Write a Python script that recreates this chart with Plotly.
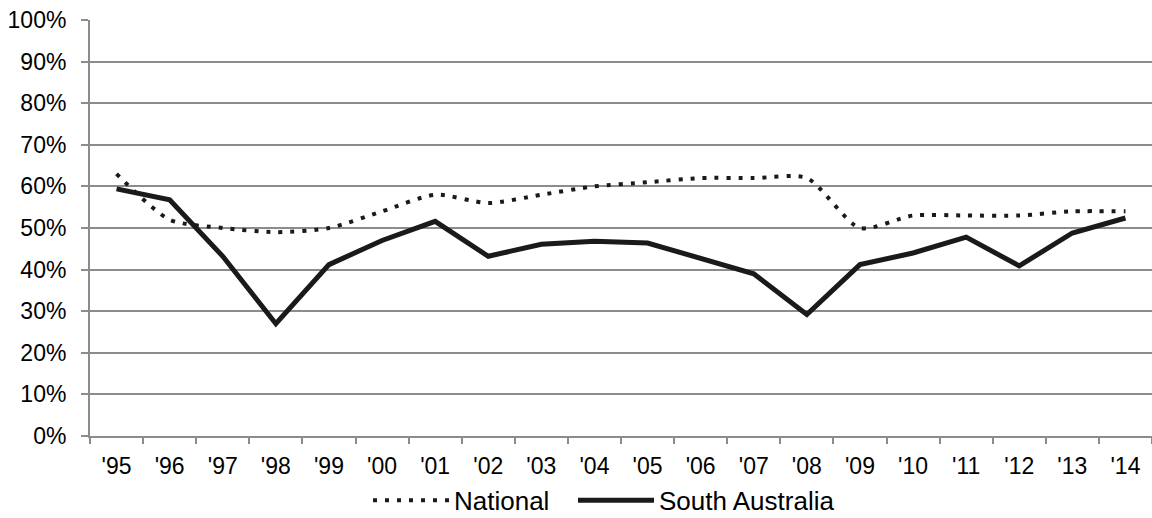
import plotly.graph_objects as go

years = ["'95", "'96", "'97", "'98", "'99", "'00", "'01", "'02", "'03", "'04",
         "'05", "'06", "'07", "'08", "'09", "'10", "'11", "'12", "'13", "'14"]
national = [0.63, 0.52, 0.50, 0.49, 0.50, 0.54, 0.58, 0.56, 0.58, 0.60,
            0.61, 0.62, 0.62, 0.62, 0.50, 0.53, 0.53, 0.53, 0.54, 0.54]
south_australia = [0.594, 0.568, 0.432, 0.27, 0.412, 0.47, 0.516, 0.432, 0.461, 0.468,
                   0.464, 0.428, 0.39, 0.292, 0.412, 0.44, 0.478, 0.409, 0.488, 0.524]

FONT = "Liberation Sans, Arial, sans-serif"
GRID = "#8c8c8c"
W, H = 1152, 518

fig = go.Figure()
fig.add_trace(go.Scatter(
    x=years, y=national, name="National", mode="lines", legend="legend",
    line=dict(color="#1a1a1a", width=4, dash="4px,8px", shape="spline", smoothing=0.7),
))
fig.add_trace(go.Scatter(
    x=years, y=south_australia, name="South Australia", mode="lines", legend="legend2",
    line=dict(color="#1a1a1a", width=5),
))

leg_common = dict(orientation="h", yanchor="top", y=-0.098, xanchor="left",
                  font=dict(size=26, family=FONT), itemwidth=76, tracegroupgap=0,
                  bgcolor="rgba(0,0,0,0)")

fig.update_layout(
    width=W, height=H,
    margin=dict(l=90, r=0, t=20, b=82, autoexpand=False),
    paper_bgcolor="white", plot_bgcolor="white",
    font=dict(family=FONT, size=23, color="#000000"),
    showlegend=True,
    legend=dict(x=(368 - 90) / 1062, **leg_common),
    legend2=dict(x=(573 - 90) / 1062, **leg_common),
    xaxis=dict(
        type="category", range=[-0.5, 19.5], showgrid=False, zeroline=False,
        showline=True, linecolor=GRID, linewidth=2, automargin=False,
        ticks="outside", ticklen=6, tickcolor=GRID, tickwidth=2, tickson="boundaries",
        ticklabelstandoff=8, tickfont=dict(size=23, family=FONT),
    ),
    yaxis=dict(
        range=[0, 1], dtick=0.1, tickformat=".0%", showgrid=True, gridcolor=GRID, gridwidth=2,
        zeroline=False, showline=True, linecolor=GRID, linewidth=2, automargin=False,
        ticks="outside", ticklen=7, tickcolor=GRID, tickwidth=2, ticklabelstandoff=10,
        tickfont=dict(size=23, family=FONT),
    ),
)

fig.write_html(
    "out.html",
    config={"displayModeBar": False},
    post_script="document.body.style.margin='0';document.body.style.overflow='hidden';",
)
